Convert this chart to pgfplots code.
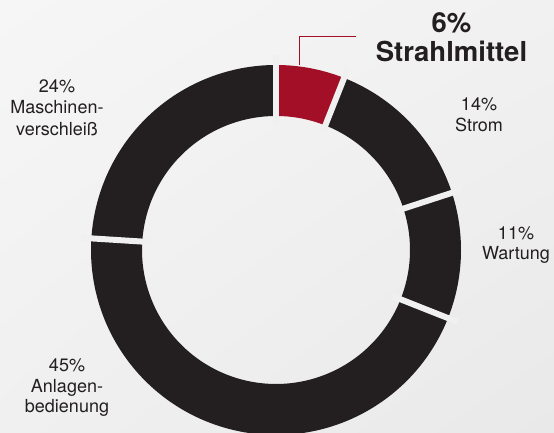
\documentclass[border=0pt]{standalone}
\usepackage{pgfplots}
\pgfplotsset{compat=1.18}
\usetikzlibrary{shadings}
\usepackage{fontspec}
\setmainfont{TeX Gyre Heros}
\definecolor{ringdark}{HTML}{231F20}
\definecolor{ringred}{HTML}{A30F27}
\definecolor{txt}{HTML}{231F20}
\definecolor{bgc}{HTML}{F0F0F0}
\definecolor{bgul}{HTML}{F6F6F6}
\definecolor{bgur}{HTML}{F1F1F1}
\definecolor{bgll}{HTML}{F0F0F0}
\definecolor{bglr}{HTML}{E9E9E9}
\begin{document}
\begin{tikzpicture}
\clip (0,0) rectangle (554pt,433pt);
\shade[upper left=bgul, upper right=bgur, lower left=bgll, lower right=bglr]
  (0,0) rectangle (554pt,433pt);
\begin{axis}[x=1pt, y=1pt, xmin=0, xmax=554, ymin=0, ymax=433,
  scale only axis, hide axis, clip=false, anchor=south west, at={(0,0)}]
% segments: percentages 6, 14, 11, 45, 24 -> start/end angles (clockwise from 90 deg)
% Strahlmittel 6%
\addplot[draw=ringred, line width=51pt, domain=68.4:90, samples=40, variable=\t]
  ({276+159.5*cos(t)},{183+159.5*sin(t)});
% Strom 14%
\addplot[draw=ringdark, line width=51pt, domain=18:68.4, samples=60, variable=\t]
  ({276+159.5*cos(t)},{183+159.5*sin(t)});
% Wartung 11%
\addplot[draw=ringdark, line width=51pt, domain=-21.6:18, samples=60, variable=\t]
  ({276+159.5*cos(t)},{183+159.5*sin(t)});
% Anlagenbedienung 45%
\addplot[draw=ringdark, line width=51pt, domain=-183.6:-21.6, samples=150, variable=\t]
  ({276+159.5*cos(t)},{183+159.5*sin(t)});
% Maschinenverschleiss 24%
\addplot[draw=ringdark, line width=51pt, domain=-270:-183.6, samples=90, variable=\t]
  ({276+159.5*cos(t)},{183+159.5*sin(t)});
% separators
\addplot[draw=bgc, line width=6pt, domain=125:195, samples=2, variable=\r] ({276+r*cos(90)},{183+r*sin(90)});
\addplot[draw=bgc, line width=6pt, domain=125:195, samples=2, variable=\r] ({276+r*cos(68.4)},{183+r*sin(68.4)});
\addplot[draw=bgc, line width=6pt, domain=125:195, samples=2, variable=\r] ({276+r*cos(18)},{183+r*sin(18)});
\addplot[draw=bgc, line width=6pt, domain=125:195, samples=2, variable=\r] ({276+r*cos(-21.6)},{183+r*sin(-21.6)});
\addplot[draw=bgc, line width=6pt, domain=125:195, samples=2, variable=\r] ({276+r*cos(-183.6)},{183+r*sin(-183.6)});
% leader line
\draw[ringred, line width=1pt] (axis cs:299,368) -- (axis cs:299,396) -- (axis cs:356,396);
% labels
\begin{scope}[every node/.style={anchor=base, inner sep=0pt, text=txt, font=\fontsize{18}{21}\selectfont}]
\node[font=\fontsize{27.5}{30}\selectfont\bfseries] at (axis cs:451.5,400) {6\%};
\node[font=\fontsize{27.5}{30}\selectfont\bfseries] at (axis cs:451.5,371) {Strahlmittel};
\node at (axis cs:479,322) {14\%};
\node at (axis cs:479,301) {Strom};
\node at (axis cs:516,193) {11\%};
\node at (axis cs:516,173) {Wartung};
\node at (axis cs:57,340) {24\%};
\node at (axis cs:57,319) {Maschinen-};
\node at (axis cs:57,297) {verschleiß};
\node at (axis cs:67,61) {45\%};
\node at (axis cs:67,40) {Anlagen-};
\node at (axis cs:67,20) {bedienung};
\end{scope}
\end{axis}
\end{tikzpicture}
\end{document}
